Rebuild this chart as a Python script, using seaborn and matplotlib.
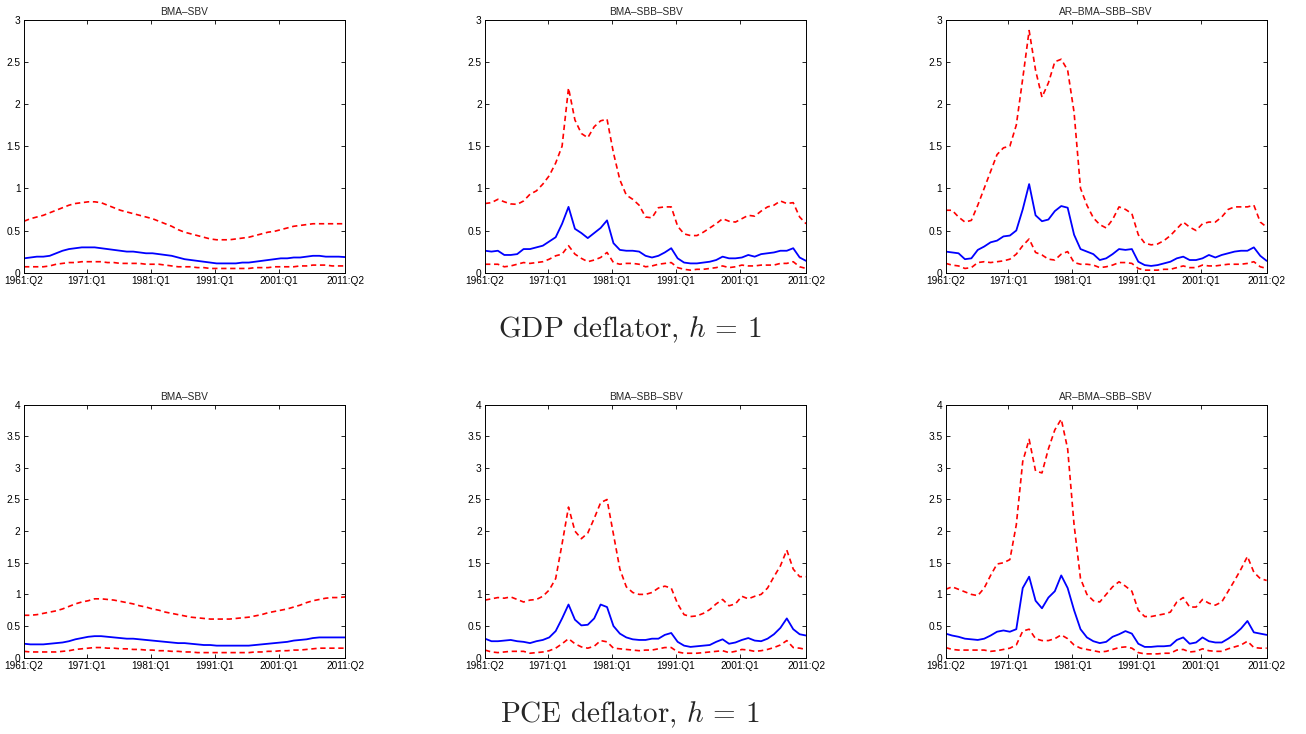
"""Density-forecast bands (median and 90% bounds) for GDP and PCE deflator, h = 1."""

import matplotlib

matplotlib.use("Agg")
import matplotlib.pyplot as plt
import numpy as np
import seaborn as sns

# ---- data: one value per year, observed at Q2 -----------------------------
DATES = [f"{y}:Q2" for y in range(1961, 2012)]
TICK_LABELS = ["1961:Q2", "1971:Q1", "1981:Q1", "1991:Q1", "2001:Q1", "2011:Q2"]
MODELS = ["BMA\u2013SBV", "BMA\u2013SBB\u2013SBV", "AR\u2013BMA\u2013SBB\u2013SBV"]
CAPTIONS = ["GDP deflator, $h$ = 1", "PCE deflator, $h$ = 1"]
YMAX = [3, 4]

# GDP deflator
GDP_SBV_UP = [0.61, 0.64, 0.66, 0.68, 0.71, 0.74, 0.77, 0.80, 0.82, 0.83,
              0.84, 0.84, 0.83, 0.80, 0.77, 0.74, 0.72, 0.70, 0.68, 0.66,
              0.64, 0.61, 0.58, 0.55, 0.51, 0.48, 0.46, 0.44, 0.42, 0.40,
              0.39, 0.39, 0.39, 0.40, 0.41, 0.42, 0.44, 0.46, 0.48, 0.49,
              0.51, 0.53, 0.55, 0.56, 0.57, 0.58, 0.58, 0.58, 0.58, 0.58,
              0.58]
GDP_SBV_MED = [0.17, 0.18, 0.19, 0.19, 0.20, 0.23, 0.26, 0.28, 0.29, 0.30,
               0.30, 0.30, 0.29, 0.28, 0.27, 0.26, 0.25, 0.25, 0.24, 0.23,
               0.23, 0.22, 0.21, 0.20, 0.18, 0.16, 0.15, 0.14, 0.13, 0.12,
               0.11, 0.11, 0.11, 0.11, 0.12, 0.12, 0.13, 0.14, 0.15, 0.16,
               0.17, 0.17, 0.18, 0.18, 0.19, 0.20, 0.20, 0.19, 0.19, 0.19,
               0.185]
GDP_SBV_LO = [0.07, 0.07, 0.07, 0.07, 0.08, 0.10, 0.11, 0.12, 0.12, 0.13,
              0.13, 0.13, 0.13, 0.12, 0.12, 0.11, 0.11, 0.11, 0.11, 0.10,
              0.10, 0.10, 0.09, 0.08, 0.07, 0.07, 0.07, 0.06, 0.06, 0.05,
              0.05, 0.05, 0.05, 0.05, 0.05, 0.05, 0.06, 0.06, 0.06, 0.07,
              0.07, 0.07, 0.07, 0.08, 0.08, 0.09, 0.09, 0.09, 0.08, 0.08,
              0.08]

GDP_SBB_UP = [0.82, 0.83, 0.87, 0.84, 0.815, 0.81, 0.85, 0.93, 0.97, 1.05,
              1.15, 1.30, 1.50, 2.19, 1.81, 1.65, 1.60, 1.73, 1.80, 1.82,
              1.42, 1.10, 0.92, 0.87, 0.80, 0.66, 0.65, 0.77, 0.78, 0.78,
              0.55, 0.46, 0.44, 0.44, 0.48, 0.53, 0.58, 0.64, 0.61, 0.60,
              0.64, 0.68, 0.67, 0.73, 0.78, 0.80, 0.85, 0.82, 0.83, 0.66,
              0.58]
GDP_SBB_MED = [0.26, 0.25, 0.26, 0.21, 0.21, 0.22, 0.28, 0.28, 0.30, 0.32,
               0.37, 0.42, 0.58, 0.78, 0.52, 0.47, 0.41, 0.47, 0.53, 0.62,
               0.35, 0.27, 0.26, 0.26, 0.25, 0.20, 0.18, 0.20, 0.24, 0.29,
               0.17, 0.12, 0.11, 0.11, 0.12, 0.13, 0.15, 0.19, 0.17, 0.17,
               0.18, 0.21, 0.19, 0.22, 0.23, 0.24, 0.26, 0.26, 0.29, 0.18,
               0.14]
GDP_SBB_LO = [0.10, 0.10, 0.10, 0.07, 0.08, 0.10, 0.12, 0.11, 0.12, 0.13,
              0.16, 0.20, 0.22, 0.32, 0.22, 0.17, 0.13, 0.15, 0.18, 0.24,
              0.12, 0.10, 0.11, 0.11, 0.10, 0.07, 0.08, 0.10, 0.11, 0.12,
              0.06, 0.04, 0.03, 0.04, 0.04, 0.05, 0.06, 0.08, 0.06, 0.07,
              0.09, 0.08, 0.08, 0.09, 0.09, 0.09, 0.11, 0.11, 0.13, 0.07,
              0.05]

GDP_AR_UP = [0.74, 0.74, 0.66, 0.60, 0.62, 0.80, 1.00, 1.20, 1.40, 1.48,
             1.50, 1.75, 2.30, 2.87, 2.40, 2.08, 2.25, 2.50, 2.53, 2.40,
             1.90, 1.00, 0.80, 0.65, 0.57, 0.53, 0.63, 0.78, 0.75, 0.70,
             0.45, 0.35, 0.33, 0.34, 0.38, 0.44, 0.52, 0.60, 0.54, 0.50,
             0.58, 0.60, 0.60, 0.66, 0.75, 0.78, 0.78, 0.78, 0.80, 0.60,
             0.54]
GDP_AR_MED = [0.25, 0.24, 0.23, 0.16, 0.17, 0.27, 0.31, 0.36, 0.38, 0.43,
              0.44, 0.50, 0.75, 1.05, 0.68, 0.61, 0.63, 0.73, 0.79, 0.77,
              0.45, 0.28, 0.25, 0.22, 0.15, 0.17, 0.22, 0.28, 0.27, 0.28,
              0.13, 0.09, 0.08, 0.09, 0.11, 0.13, 0.17, 0.19, 0.15, 0.15,
              0.17, 0.21, 0.18, 0.21, 0.23, 0.25, 0.26, 0.26, 0.30, 0.20,
              0.14]
GDP_AR_LO = [0.11, 0.09, 0.08, 0.05, 0.06, 0.12, 0.13, 0.12, 0.13, 0.14,
             0.16, 0.22, 0.32, 0.40, 0.24, 0.21, 0.16, 0.15, 0.22, 0.25,
             0.12, 0.10, 0.10, 0.09, 0.06, 0.07, 0.09, 0.12, 0.12, 0.11,
             0.05, 0.03, 0.03, 0.03, 0.04, 0.04, 0.06, 0.08, 0.06, 0.06,
             0.09, 0.08, 0.08, 0.09, 0.10, 0.10, 0.10, 0.11, 0.13, 0.07,
             0.05]

# PCE deflator
PCE_SBV_UP = [0.67, 0.67, 0.68, 0.70, 0.72, 0.74, 0.77, 0.81, 0.85, 0.88,
              0.90, 0.93, 0.93, 0.92, 0.91, 0.89, 0.87, 0.85, 0.82, 0.80,
              0.77, 0.75, 0.72, 0.70, 0.68, 0.66, 0.64, 0.63, 0.62, 0.61,
              0.61, 0.61, 0.61, 0.62, 0.63, 0.64, 0.66, 0.68, 0.71, 0.73,
              0.75, 0.77, 0.80, 0.83, 0.87, 0.90, 0.92, 0.94, 0.95, 0.95,
              0.96]
PCE_SBV_MED = [0.22, 0.21, 0.21, 0.21, 0.22, 0.23, 0.24, 0.26, 0.29, 0.31,
               0.33, 0.34, 0.34, 0.33, 0.32, 0.31, 0.30, 0.30, 0.29, 0.28,
               0.27, 0.26, 0.25, 0.24, 0.23, 0.23, 0.22, 0.21, 0.20, 0.20,
               0.19, 0.19, 0.19, 0.19, 0.19, 0.19, 0.20, 0.21, 0.22, 0.23,
               0.24, 0.25, 0.27, 0.28, 0.29, 0.31, 0.32, 0.32, 0.32, 0.32,
               0.32]
PCE_SBV_LO = [0.10, 0.09, 0.09, 0.09, 0.09, 0.09, 0.10, 0.11, 0.13, 0.14,
              0.15, 0.16, 0.16, 0.15, 0.15, 0.14, 0.14, 0.13, 0.13, 0.12,
              0.12, 0.11, 0.11, 0.10, 0.10, 0.09, 0.09, 0.08, 0.08, 0.08,
              0.08, 0.08, 0.08, 0.08, 0.08, 0.08, 0.09, 0.09, 0.10, 0.10,
              0.11, 0.11, 0.12, 0.12, 0.13, 0.14, 0.15, 0.15, 0.15, 0.15,
              0.15]

PCE_SBB_UP = [0.91, 0.93, 0.95, 0.94, 0.96, 0.92, 0.88, 0.91, 0.92, 0.97,
              1.07, 1.25, 1.80, 2.38, 2.00, 1.88, 1.97, 2.20, 2.45, 2.50,
              1.95, 1.40, 1.12, 1.03, 1.00, 1.00, 1.03, 1.10, 1.13, 1.10,
              0.85, 0.68, 0.65, 0.66, 0.70, 0.76, 0.85, 0.92, 0.82, 0.85,
              0.97, 0.93, 0.97, 1.00, 1.10, 1.28, 1.45, 1.70, 1.40, 1.28,
              1.28]
PCE_SBB_MED = [0.30, 0.26, 0.26, 0.27, 0.28, 0.26, 0.25, 0.23, 0.26, 0.28,
               0.32, 0.42, 0.62, 0.84, 0.60, 0.51, 0.52, 0.62, 0.84, 0.80,
               0.50, 0.38, 0.32, 0.29, 0.28, 0.28, 0.30, 0.30, 0.36, 0.39,
               0.25, 0.19, 0.17, 0.18, 0.19, 0.20, 0.25, 0.29, 0.22, 0.24,
               0.28, 0.31, 0.27, 0.26, 0.30, 0.37, 0.47, 0.62, 0.45, 0.37,
               0.35]
PCE_SBB_LO = [0.12, 0.09, 0.08, 0.09, 0.10, 0.10, 0.10, 0.07, 0.08, 0.09,
              0.11, 0.15, 0.22, 0.30, 0.22, 0.17, 0.15, 0.18, 0.27, 0.25,
              0.15, 0.14, 0.13, 0.12, 0.11, 0.12, 0.12, 0.14, 0.16, 0.16,
              0.09, 0.07, 0.07, 0.07, 0.08, 0.09, 0.10, 0.11, 0.08, 0.10,
              0.13, 0.12, 0.10, 0.11, 0.13, 0.16, 0.20, 0.27, 0.16, 0.15,
              0.13]

PCE_AR_UP = [1.08, 1.12, 1.08, 1.04, 1.00, 0.98, 1.10, 1.30, 1.48, 1.50,
             1.55, 2.10, 3.10, 3.45, 2.95, 2.92, 3.30, 3.60, 3.77, 3.30,
             2.10, 1.25, 1.00, 0.90, 0.88, 1.00, 1.12, 1.20, 1.13, 1.05,
             0.75, 0.65, 0.65, 0.67, 0.69, 0.72, 0.88, 0.95, 0.80, 0.80,
             0.92, 0.86, 0.83, 0.88, 1.05, 1.22, 1.40, 1.60, 1.35, 1.25,
             1.22]
PCE_AR_MED = [0.38, 0.35, 0.33, 0.30, 0.29, 0.28, 0.30, 0.35, 0.41, 0.43,
              0.41, 0.45, 1.10, 1.28, 0.90, 0.78, 0.95, 1.05, 1.30, 1.10,
              0.75, 0.45, 0.32, 0.26, 0.23, 0.25, 0.33, 0.37, 0.42, 0.38,
              0.22, 0.17, 0.17, 0.18, 0.18, 0.19, 0.28, 0.32, 0.22, 0.24,
              0.32, 0.26, 0.24, 0.24, 0.30, 0.37, 0.46, 0.58, 0.40, 0.38,
              0.36]
PCE_AR_LO = [0.16, 0.13, 0.12, 0.12, 0.12, 0.12, 0.12, 0.10, 0.11, 0.13,
             0.15, 0.20, 0.42, 0.45, 0.30, 0.27, 0.27, 0.30, 0.36, 0.30,
             0.20, 0.15, 0.13, 0.11, 0.09, 0.10, 0.13, 0.16, 0.17, 0.15,
             0.08, 0.06, 0.06, 0.06, 0.07, 0.07, 0.12, 0.13, 0.09, 0.10,
             0.14, 0.11, 0.10, 0.10, 0.14, 0.17, 0.20, 0.26, 0.16, 0.15,
             0.15]

PANELS = [
    [(GDP_SBV_LO, GDP_SBV_MED, GDP_SBV_UP),
     (GDP_SBB_LO, GDP_SBB_MED, GDP_SBB_UP),
     (GDP_AR_LO, GDP_AR_MED, GDP_AR_UP)],
    [(PCE_SBV_LO, PCE_SBV_MED, PCE_SBV_UP),
     (PCE_SBB_LO, PCE_SBB_MED, PCE_SBB_UP),
     (PCE_AR_LO, PCE_AR_MED, PCE_AR_UP)],
]

BLUE = "#0000ff"
RED = "#ff0000"
DASH = (0, (3.2, 2.2))


def qindex(label: str) -> int:
    """Quarter count since 1961:Q2."""
    year, q = label.split(":Q")
    return (int(year) - 1961) * 4 + int(q) - 2


X = [qindex(d) for d in DATES]

sns.set_theme(style="ticks")
plt.rcParams["font.family"] = ["Liberation Sans", "DejaVu Sans"]
plt.rcParams["mathtext.fontset"] = "cm"

fig = plt.figure(figsize=(13.06, 7.34), dpi=100)
lefts = [0.0184, 0.3714, 0.7241]
bottoms = [0.6285, 0.1040]
W, H = 0.2458, 0.3448

for r, row in enumerate(PANELS):
    for c, (lo, med, up) in enumerate(row):
        for s in (lo, med, up):
            assert len(s) == len(X)
        ax = fig.add_axes([lefts[c], bottoms[r], W, H])
        sns.lineplot(x=X, y=up, color=RED, lw=1.2, linestyle=DASH, ax=ax)
        sns.lineplot(x=X, y=med, color=BLUE, lw=1.3, ax=ax)
        sns.lineplot(x=X, y=lo, color=RED, lw=1.2, linestyle=DASH, ax=ax)
        ax.set_xlim(0, 200)
        ax.set_ylim(0, YMAX[r])
        yt = np.arange(0, YMAX[r] + 0.01, 0.5)
        ax.set_yticks(yt)
        ax.set_yticklabels([f"{v:g}" for v in yt])
        ax.set_xticks([qindex(t) for t in TICK_LABELS])
        ax.set_xticklabels(TICK_LABELS)
        ax.tick_params(direction="in", length=3, width=0.6, labelsize=7.3,
                       top=True, right=True, colors="black")
        ax.tick_params(axis="x", pad=2.5)
        ax.tick_params(axis="y", pad=2.5)
        for sp in ax.spines.values():
            sp.set_visible(True)
            sp.set_linewidth(0.7)
            sp.set_color("black")
        ax.set_title(MODELS[c], fontsize=7.3, pad=3)
        ax.set_xlabel("")
        ax.set_ylabel("")

fig.text(0.4823, 0.551, CAPTIONS[0], ha="center", va="center", fontsize=21, family="cmr10")
fig.text(0.4823, 0.026, CAPTIONS[1], ha="center", va="center", fontsize=21, family="cmr10")

fig.savefig("out.png", dpi=100)
